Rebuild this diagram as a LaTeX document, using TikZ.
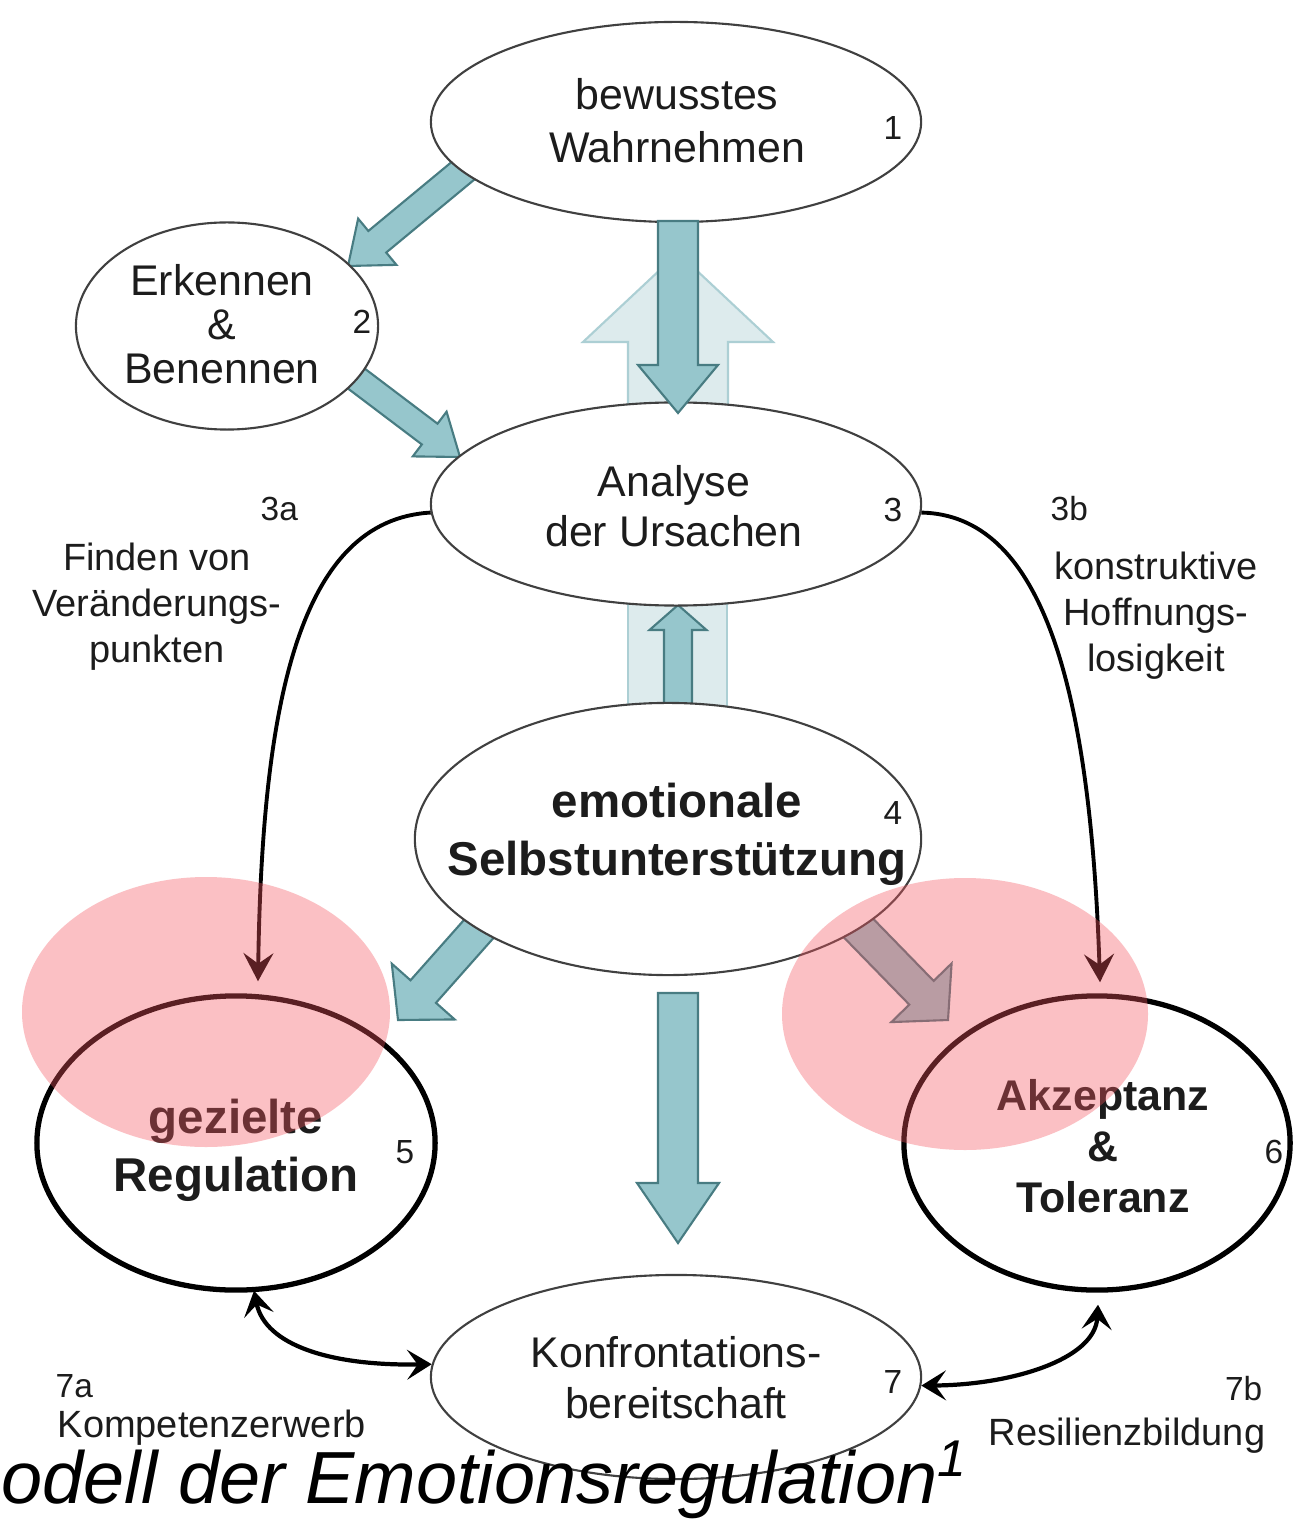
\documentclass[tikz,border=0pt]{standalone}
\usepackage{fontspec}
\setmainfont{Liberation Sans}
\usetikzlibrary{calc,arrows.meta,shapes.geometric}
\definecolor{tealfill}{RGB}{150,198,204}
\definecolor{tealline}{RGB}{72,124,130}
\definecolor{lightfill}{RGB}{221,235,237}
\definecolor{lightline}{RGB}{172,207,212}
\definecolor{pinkblob}{RGB}{245,85,95}
\definecolor{txt}{RGB}{28,28,28}
\newcommand\fsz[2]{\fontsize{#1}{#2}\selectfont}
% #1 style, #2 start coordinate, #3 tip coordinate, #4 shaft half width, #5 head half width, #6 head length
\newcommand\blockarrow[6]{%
  \coordinate (hb) at ($(#3)!#6!(#2)$);
  \draw[#1] ($(#2)!#4!90:(#3)$) -- ($(hb)!#4!90:(#3)$) -- ($(hb)!#5!90:(#3)$) -- (#3)
    -- ($(hb)!#5!-90:(#3)$) -- ($(hb)!#4!-90:(#3)$) -- ($(#2)!#4!-90:(#3)$) -- cycle;
}
\tikzset{
  ell/.style={ellipse, draw=black!75, line width=0.6pt, fill=white, inner sep=0pt},
  ellbold/.style={ellipse, draw=black, line width=1.5pt, fill=white, inner sep=0pt},
  lbl/.style={align=center, text=txt, inner sep=0pt},
  numlbl/.style={text=txt, inner sep=0pt, font=\fsz{9.5}{11}},
  tealarrow/.style={fill=tealfill, draw=tealline, line width=0.6pt, line join=miter},
  lightarrow/.style={fill=lightfill, draw=lightline, line width=0.6pt, line join=miter},
  curvearrow/.style={draw=black, line width=1.1pt, -{Stealth[length=8pt,width=8.5pt,inset=3pt]}},
  dblarrow/.style={draw=black, line width=1.2pt, {Stealth[length=7pt,width=8.5pt,inset=3pt]}-{Stealth[length=7pt,width=8.5pt,inset=3pt]}},
  pinkover/.style={fill=pinkblob, fill opacity=0.37, draw=none},
}
\begin{document}
\begin{tikzpicture}[x=0.01cm, y=-0.01cm]
\useasboundingbox (0,0) rectangle (1294,1519);
\fill[white] (0,0) rectangle (1294,1519);

% light background arrows
\coordinate (dS) at (678,430); \coordinate (dT) at (678,253);
\blockarrow{lightarrow}{dS}{dT}{0.50cm}{0.95cm}{0.89cm}
\draw[lightarrow] (628,590) rectangle (727,720);
\coordinate (eS) at (678,730); \coordinate (eT) at (678,605);
\blockarrow{tealarrow}{eS}{eT}{0.14cm}{0.285cm}{0.25cm}

% diagonal arrows (start hidden under source ellipse)
\coordinate (aS) at (470,165); \coordinate (aT) at (348,266);
\blockarrow{tealarrow}{aS}{aT}{0.14cm}{0.30cm}{0.38cm}
\coordinate (bS) at (345,370); \coordinate (bT) at (460,457);
\blockarrow{tealarrow}{bS}{bT}{0.13cm}{0.28cm}{0.38cm}
\coordinate (gS) at (500,905); \coordinate (gT) at (398,1020);
\blockarrow{tealarrow}{gS}{gT}{0.17cm}{0.42cm}{0.38cm}
\coordinate (hS) at (836,905); \coordinate (hT) at (948,1020);
\blockarrow{tealarrow}{hS}{hT}{0.17cm}{0.42cm}{0.38cm}

% ellipses
\node[ell, minimum width=4.9cm, minimum height=2.0cm] (e1) at (676,122) {};
\node[ell, minimum width=3.02cm, minimum height=2.07cm] (e2) at (227,326) {};
\node[ell, minimum width=4.9cm, minimum height=2.03cm] (e3) at (676,504) {};
\node[ell, minimum width=5.06cm, minimum height=2.72cm] (e4) at (668,839) {};
\node[ellbold, minimum width=3.98cm, minimum height=2.94cm] (e5) at (236,1143) {};
\node[ellbold, minimum width=3.86cm, minimum height=2.94cm] (e6) at (1097,1143) {};
\node[ell, minimum width=4.9cm, minimum height=2.04cm] (e7) at (676,1377) {};

% vertical arrows on top
\coordinate (cS) at (678,221); \coordinate (cT) at (678,413);
\blockarrow{tealarrow}{cS}{cT}{0.20cm}{0.40cm}{0.48cm}
\coordinate (fS) at (678,993); \coordinate (fT) at (678,1243);
\blockarrow{tealarrow}{fS}{fT}{0.20cm}{0.41cm}{0.60cm}

% texts in ellipses
\node[lbl, font=\fsz{12.2}{15.1}] (t1) at (677,121) {bewusstes\\Wahrnehmen};
\node[lbl, font=\fsz{12.2}{12.5}] (t2) at (222,324) {Erkennen\\\&\\Benennen};
\node[lbl, font=\fsz{12.2}{14.2}] (t3) at (674,506) {Analyse\\der Ursachen};
\node[lbl, font=\bfseries\fsz{13.5}{16.5}] (t4) at (677,834) {emotionale\\Selbstunterstützung};
\node[lbl, font=\bfseries\fsz{13.5}{16.5}] (t5) at (236,1150) {gezielte\\Regulation};
\node[lbl, font=\bfseries\fsz{12.2}{14.6}] (t6) at (1103,1146) {Akzeptanz\\\&\\Toleranz};
\node[lbl, font=\fsz{12.2}{14.5}] (t7) at (676,1378) {Konfrontations-\\bereitschaft};

% numbers
\node[numlbl] (n1) at (893,128) {1};
\node[numlbl] (n2) at (362,322) {2};
\node[numlbl] (n3) at (893,510) {3};
\node[numlbl] (n4) at (893,813) {4};
\node[numlbl] (n5) at (405,1152) {5};
\node[numlbl] (n6) at (1274,1152) {6};
\node[numlbl] (n7) at (893,1382) {7};

% side labels
\node[numlbl, anchor=base west] (n3a) at (260,521) {3a};
\node[lbl, font=\fsz{10.8}{13.1}] (s3a) at (157,607) {Finden von\\Veränderungs-\\punkten};
\node[numlbl, anchor=base west] (n3b) at (1050,521) {3b};
\node[lbl, font=\fsz{10.8}{13.1}] (s3b) at (1156,616) {konstruktive\\Hoffnungs-\\losigkeit};
\node[numlbl, anchor=base west] (n7a) at (55,1397) {7a};
\node[lbl, font=\fsz{10.8}{13.1}, anchor=base west] (s7a) at (57,1437) {Kompetenzerwerb};
\node[numlbl, anchor=base east] (n7b) at (1263,1400) {7b};
\node[lbl, font=\fsz{10.8}{13.1}, anchor=base west] (s7b) at (988,1445) {Resilienzbildung};

% curved arrows
\coordinate (a5) at ($(e5.north)+(22,-12)$);
\coordinate (a6) at ($(e6.north)+(3,-11)$);
\draw[curvearrow] (e3.182) .. controls (300,520) and (262,700) .. (a5);
\draw[curvearrow] (e3.358) .. controls (1040,515) and (1090,680) .. (a6);

% double arrows
\coordinate (b5) at ($(e5.south)+(18,-2)$);
\coordinate (b6) at ($(e6.south)+(1,12)$);
\draw[dblarrow] (b5) .. controls (265,1345) and (330,1366) .. (e7.177);
\draw[dblarrow] (e7.-2) .. controls (1010,1385) and (1095,1360) .. (b6);

% caption
\node[text=black, inner sep=0pt, anchor=base west, font=\itshape\fsz{21}{24}] (cap) at (1,1503) {odell der Emotionsregulation\textsuperscript{1}};

% pink highlights
\fill[pinkover] (206,1012) ellipse [x radius=184, y radius=135];
\fill[pinkover] (965,1014) ellipse [x radius=183, y radius=136];
\end{tikzpicture}
\end{document}
